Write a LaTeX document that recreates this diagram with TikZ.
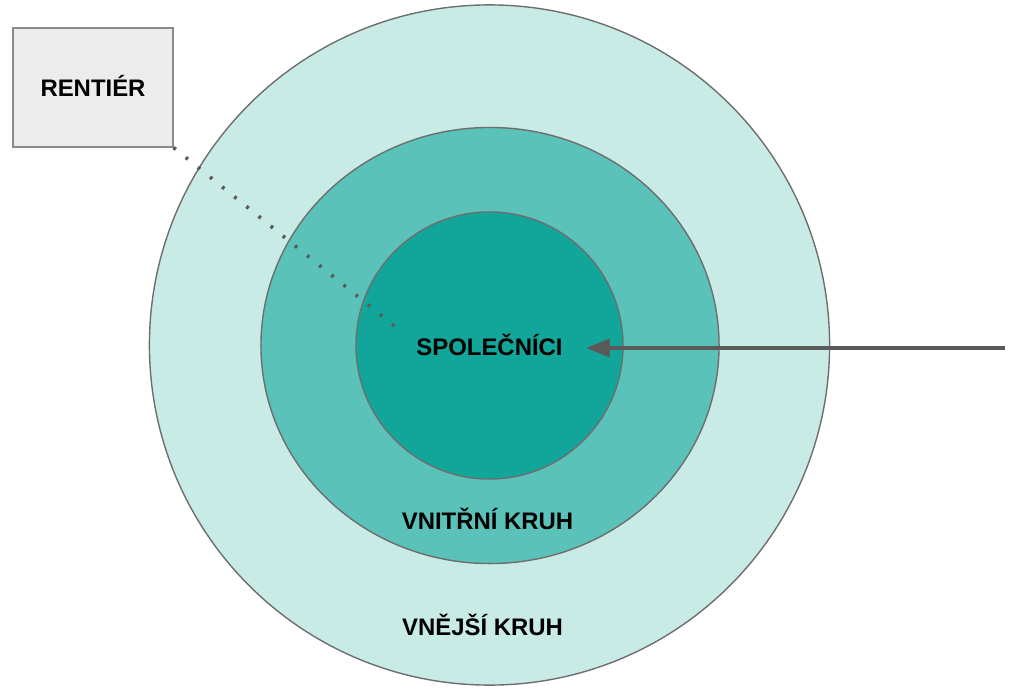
\documentclass[tikz,border=0pt]{standalone}
\usepackage{fontspec}
\setmainfont{Liberation Sans}
\usetikzlibrary{arrows.meta,shapes.geometric}

\definecolor{outerteal}{HTML}{C8EBE6}
\definecolor{midteal}{HTML}{5AC2B9}
\definecolor{innerteal}{HTML}{12A69A}
\definecolor{ringline}{HTML}{6E6E6E}
\definecolor{boxfill}{HTML}{ECECEC}
\definecolor{boxline}{HTML}{8A8A8A}
\definecolor{arrowgray}{HTML}{5A5A5A}

\begin{document}
\begin{tikzpicture}[
  x=0.025cm, y=-0.025cm,
  font=\bfseries\fontsize{17}{20}\selectfont,
  ring/.style={draw=ringline, line width=0.035cm, inner sep=0pt},
  label/.style={anchor=base, inner sep=0pt},
  rbox/.style={draw=boxline, fill=boxfill, line width=0.03cm, minimum width=4cm, minimum height=2.975cm, inner sep=0pt},
  arrow/.style={-{Triangle[length=0.6cm, width=0.45cm]}, draw=arrowgray, line width=0.1cm},
  dotline/.style={draw=arrowgray, line width=0.09cm, dash pattern=on 0.07cm off 0.32cm},
]
\useasboundingbox (0,0) rectangle (1024,690);

% rings
\node[ring, circle, fill=outerteal, minimum size=17cm] (vnejsi) at (489.5,345) {};
\node[ring, ellipse, fill=midteal, minimum width=11.45cm, minimum height=10.9cm] (vnitrni) at (490,345.5) {};
\node[ring, circle, fill=innerteal, minimum size=6.675cm] (spolecnici) at (489.5,345.5) {};

% labels
\node[label, inner xsep=0.575cm] (spoltext) at (489.5,355) {SPOLEČNÍCI};
\node[label] (vnitrnitext) at (487.5,529.5) {VNITŘNÍ KRUH};
\node[label] (vnejsitext) at (482.5,635) {VNĚJŠÍ KRUH};

% rentier box
\node[rbox] (rentier) at (93,87.5) {};
\node[label] (rentiertext) at (93,97) {RENTIÉR};

\coordinate (dotend) at (403,333);
\draw[dotline] (rentier.south east) -- (dotend);

\coordinate (arrstart) at (1005,348);
\draw[arrow] (arrstart) -- (arrstart -| spoltext.east);

\end{tikzpicture}
\end{document}
